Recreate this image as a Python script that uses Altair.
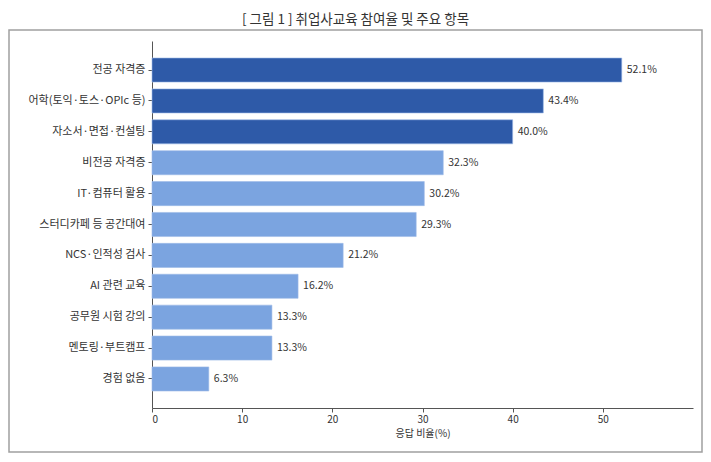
import altair as alt
import pandas as pd

categories = [
    "전공 자격증",
    "어학(토익·토스·OPIc 등)",
    "자소서·면접·컨설팅",
    "비전공 자격증",
    "IT·컴퓨터 활용",
    "스터디카페 등 공간대여",
    "NCS·인적성 검사",
    "AI 관련 교육",
    "공무원 시험 강의",
    "멘토링·부트캠프",
    "경험 없음",
]
values = [52.1, 43.4, 40.0, 32.3, 30.2, 29.3, 21.2, 16.2, 13.3, 13.3, 6.3]
groups = ["top"] * 3 + ["rest"] * 8
x_ticks = [0, 10, 20, 30, 40, 50]

FONT = "Noto Sans CJK KR"
TEXT = "#333333"

df = pd.DataFrame({"item": categories, "value": values, "group": groups})
df["label"] = df["value"].map(lambda v: f"{v:.1f}%")

y_enc = alt.Y(
    "item:N",
    sort=categories,
    title=None,
    scale=alt.Scale(paddingInner=0.22, paddingOuter=0.55),
    axis=alt.Axis(
        labelFont=FONT, labelFontSize=11, labelColor=TEXT, labelPadding=3,
        tickSize=4, tickColor="#555555", domainColor="#555555", grid=False,
    ),
)
x_enc = alt.X(
    "value:Q",
    title="응답 비율(%)",
    scale=alt.Scale(domain=[0, 60], nice=False),
    axis=alt.Axis(
        values=x_ticks, format="d", labelFont=FONT, labelFontSize=10,
        labelColor=TEXT, titleFont=FONT, titleFontSize=10, titleColor=TEXT,
        titleFontWeight="normal", tickSize=4, tickColor="#555555",
        domainColor="#555555", grid=False, titlePadding=4,
    ),
)

base = alt.Chart(df)

bars = base.mark_bar(stroke="#9DBAE8", strokeWidth=0.6).encode(
    y=y_enc,
    x=x_enc,
    color=alt.Color(
        "group:N",
        scale=alt.Scale(domain=["top", "rest"], range=["#2E5AA8", "#7BA4E0"]),
        legend=None,
    ),
)

labels = base.mark_text(
    align="left", baseline="middle", dx=5, font=FONT, fontSize=10.5, color=TEXT
).encode(y=alt.Y("item:N", sort=categories), x="value:Q", text="label:N")

# grey frame round the whole figure
border = alt.Chart(pd.DataFrame({"b": [0]})).mark_rect(
    fill="transparent", stroke="#A0A0A0", strokeWidth=1.5
).encode(
    x=alt.value(-143), x2=alt.value(550), y=alt.value(-11), y2=alt.value(411)
)

chart = (
    alt.layer(border, bars, labels)
    .properties(
        width=541,
        height=367,
        background="white",
        padding={"left": 144, "top": 33, "right": 10, "bottom": 46},
        autosize=alt.AutoSizeParams(type="none"),
        title=alt.Title(
            "[ 그림 1 ] 취업사교육 참여율 및 주요 항목",
            font=FONT, fontSize=13.5, fontWeight="normal", color=TEXT,
            anchor="middle", frame="bounds", offset=3,
        ),
    )
    .configure_view(strokeWidth=0, stroke="transparent")
)

chart.save("out.html", embed_options={"renderer": "svg", "actions": False})
